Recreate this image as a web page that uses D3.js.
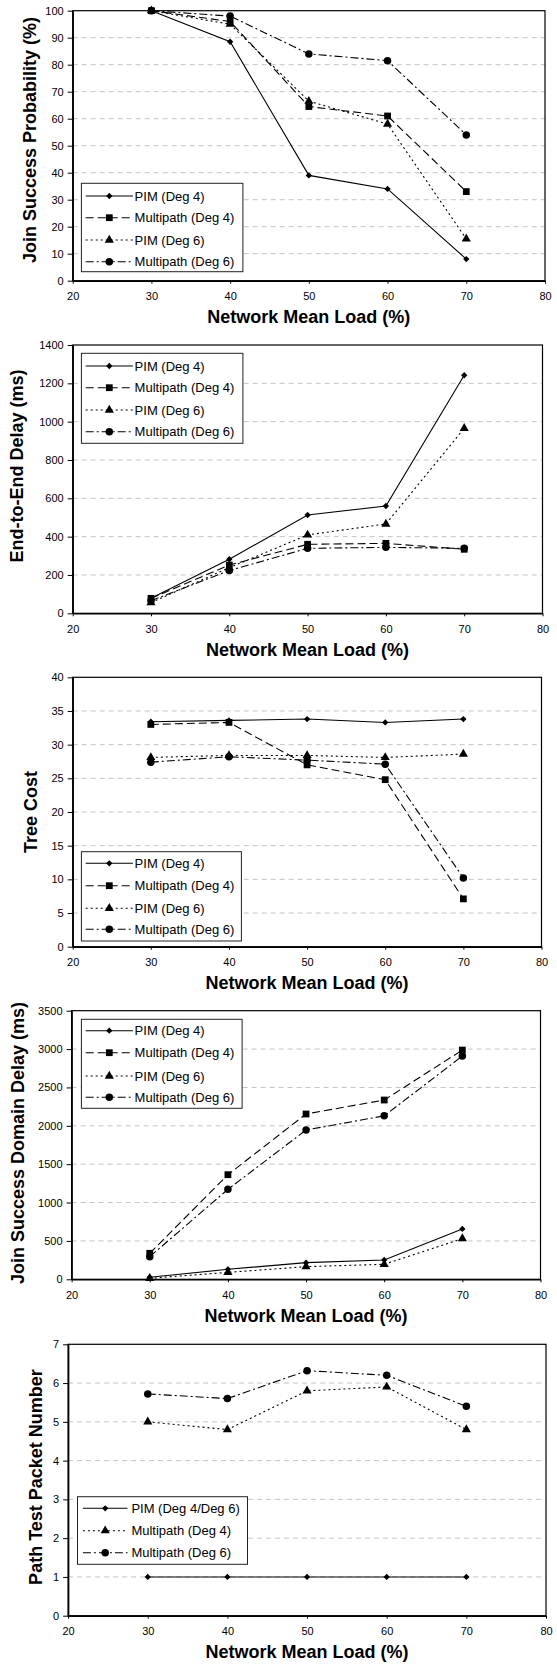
<!DOCTYPE html>
<html lang="en">
<head>
<meta charset="UTF-8">
<title>Network Mean Load charts</title>
<script src="https://d3js.org/d3.v7.min.js"></script>
<style>
    body { margin: 0; background: #fff; }
    svg { display: block; font-family: "Liberation Sans", Arial, sans-serif; }
</style>
</head>
<body>
<svg width="557" height="1664"></svg>
<script>
    // shared x axis
    var loads = [30, 40, 50, 60, 70];
    var xTickValues = [20, 30, 40, 50, 60, 70, 80];
    var legend4 = ['PIM (Deg 4)', 'Multipath (Deg 4)', 'PIM (Deg 6)', 'Multipath (Deg 6)'];
    var legend3 = ['PIM (Deg 4/Deg 6)', 'Multipath (Deg 4)', 'Multipath (Deg 6)'];

    // chart 1: join success probability
    var probTicks = [0, 10, 20, 30, 40, 50, 60, 70, 80, 90, 100];
    var probPim4 = [100, 88.5, 39, 34, 8];
    var probMulti4 = [100, 96, 64.5, 61, 33];
    var probPim6 = [100, 95, 66.5, 58, 15.5];
    var probMulti6 = [100, 98, 84, 81.5, 54];

    // chart 2: end-to-end delay
    var delayTicks = [0, 200, 400, 600, 800, 1000, 1200, 1400];
    var delayPim4 = [78, 282, 513, 560, 1242];
    var delayMulti4 = [78, 252, 360, 365, 334];
    var delayPim6 = [56, 238, 409, 466, 965];
    var delayMulti6 = [66, 223, 339, 344, 339];

    // chart 3: tree cost
    var costTicks = [0, 5, 10, 15, 20, 25, 30, 35, 40];
    var costPim4 = [33.4, 33.6, 33.8, 33.3, 33.8];
    var costMulti4 = [33.0, 33.3, 27.0, 24.8, 7.1];
    var costPim6 = [28.1, 28.4, 28.4, 28.1, 28.6];
    var costMulti6 = [27.4, 28.2, 27.7, 27.1, 10.2];

    // chart 4: join success domain delay
    var domTicks = [0, 500, 1000, 1500, 2000, 2500, 3000, 3500];
    var domPim4 = [26, 130, 217, 252, 656];
    var domMulti4 = [339, 1363, 2154, 2336, 2987];
    var domPim6 = [13, 90, 165, 195, 530];
    var domMulti6 = [295, 1172, 1945, 2130, 2909];

    // chart 5: path test packet number
    var pktTicks = [0, 1, 2, 3, 4, 5, 6, 7];
    var pktPim = [1, 1, 1, 1, 1];
    var pktMulti4 = [5.0, 4.8, 5.8, 5.9, 4.8];
    var pktMulti6 = [5.72, 5.6, 6.32, 6.2, 5.4];

    // diamond = square turned 45deg
    var styles = {
        solidDiamond: { dash: null, marker: d3.symbolSquare, size: 20, rot: 45 },
        dashSquare: { dash: '8,4', marker: d3.symbolSquare, size: 46, rot: 0 },
        dotTriangle: { dash: '2,3', marker: d3.symbolTriangle, size: 36, rot: 0 },
        dashDotCircle: { dash: '8,3,2,3', marker: d3.symbolCircle, size: 44, rot: 0 }
    };

    var panels = [
        { top: 10.7, bottom: 280.7, left: 72.7, right: 545, ticks: probTicks,
          yTitle: 'Join Success Probability (%)', yTitleX: 30, yTitleY: 140,
          series: [probPim4, probMulti4, probPim6, probMulti6], labels: legend4,
          kinds: ['solidDiamond', 'dashSquare', 'dotTriangle', 'dashDotCircle'],
          legend: { x: 81.4, y: 183.3, w: 161.5, h: 88.4, rows: [196, 217.7, 240, 261.7], lx: [85.7, 132.9], tx: 134.6 } },
        { top: 345, bottom: 613.3, left: 72.7, right: 542.5, ticks: delayTicks,
          yTitle: 'End-to-End Delay (ms)', yTitleX: 17, yTitleY: 466,
          series: [delayPim4, delayMulti4, delayPim6, delayMulti6], labels: legend4,
          kinds: ['solidDiamond', 'dashSquare', 'dotTriangle', 'dashDotCircle'],
          legend: { x: 81.4, y: 353.3, w: 161.5, h: 90, rows: [366, 387.7, 410, 431.7], lx: [85.7, 132.9], tx: 134.6 } },
        { top: 677.3, bottom: 946.7, left: 72.7, right: 541.5, ticks: costTicks,
          yTitle: 'Tree Cost', yTitleX: 31, yTitleY: 812,
          series: [costPim4, costMulti4, costPim6, costMulti6], labels: legend4,
          kinds: ['solidDiamond', 'dashSquare', 'dotTriangle', 'dashDotCircle'],
          legend: { x: 81.4, y: 851.7, w: 160, h: 89.3, rows: [863.3, 885.7, 908.3, 929.3], lx: [85.7, 132.9], tx: 134.6 } },
        { top: 1010.7, bottom: 1279.3, left: 71.6, right: 540.5, ticks: domTicks,
          yTitle: 'Join Success Domain Delay (ms)', yTitleX: 18, yTitleY: 1143,
          series: [domPim4, domMulti4, domPim6, domMulti6], labels: legend4,
          kinds: ['solidDiamond', 'dashSquare', 'dotTriangle', 'dashDotCircle'],
          legend: { x: 81.4, y: 1019.3, w: 160.7, h: 89, rows: [1030.7, 1052.7, 1076, 1097.3], lx: [85.7, 132.9], tx: 134.6 } },
        { top: 1344.3, bottom: 1615.7, left: 68.1, right: 546, ticks: pktTicks,
          yTitle: 'Path Test Packet Number', yTitleX: 35.5, yTitleY: 1477,
          series: [pktPim, pktMulti4, pktMulti6], labels: legend3,
          kinds: ['solidDiamond', 'dotTriangle', 'dashDotCircle'],
          legend: { x: 77.5, y: 1496.7, w: 170, h: 67.6, rows: [1508.3, 1530.7, 1552.7], lx: [82.9, 127.5], tx: 131.4 } }
    ];

    var svg = d3.select('svg');

    panels.forEach(function (p) {
        var x = d3.scaleLinear().domain([20, 80]).range([p.left, p.right]);
        var y = d3.scaleLinear().domain([0, d3.max(p.ticks)]).range([p.bottom, p.top]);
        var g = svg.append('g');

        // grid
        g.selectAll('.grid')
            .data(p.ticks.slice(1, -1))
            .enter()
            .append('line')
            .attr('x1', p.left).attr('x2', p.right)
            .attr('y1', function (d) { return y(d); })
            .attr('y2', function (d) { return y(d); })
            .style('stroke', '#c4c4c4')
            .style('stroke-dasharray', '5,4')
            .style('stroke-width', 1);

        g.append('rect')
            .attr('x', p.left).attr('y', p.top)
            .attr('width', p.right - p.left).attr('height', p.bottom - p.top)
            .style('fill', 'none').style('stroke', '#000').style('stroke-width', 1.2);

        var xAxis = g.append('g')
            .attr('transform', 'translate(0,' + p.bottom + ')')
            .call(d3.axisBottom(x).tickValues(xTickValues).tickFormat(d3.format('d'))
                .tickSize(3).tickPadding(9).tickSizeOuter(0));
        var yAxis = g.append('g')
            .attr('transform', 'translate(' + p.left + ',0)')
            .call(d3.axisLeft(y).tickValues(p.ticks).tickFormat(d3.format('d'))
                .tickSize(5).tickPadding(4).tickSizeOuter(0));
        [xAxis, yAxis].forEach(function (a) {
            a.select('.domain').style('stroke', '#000').style('stroke-width', 1.5);
            a.selectAll('line').style('stroke', '#000');
            a.selectAll('text').style('font-size', '11px').style('fill', '#000')
                .style('font-family', '"Liberation Sans", Arial, sans-serif');
        });

        g.append('text')
            .attr('x', (p.left + p.right) / 2)
            .attr('y', p.bottom + 42.5)
            .attr('text-anchor', 'middle')
            .style('font-size', '18px').style('font-weight', 'bold')
            .text('Network Mean Load (%)');

        g.append('text')
            .attr('transform', 'translate(' + p.yTitleX + ',' + p.yTitleY + ') rotate(-90)')
            .attr('text-anchor', 'middle')
            .attr('dy', '0.36em')
            .style('font-size', '18px').style('font-weight', 'bold')
            .text(p.yTitle);

        var line = d3.line()
            .x(function (d, i) { return x(loads[i]); })
            .y(function (d) { return y(d); });

        p.series.forEach(function (values, k) {
            var st = styles[p.kinds[k]];
            g.append('path')
                .attr('d', line(values))
                .style('fill', 'none').style('stroke', '#000').style('stroke-width', 1.1)
                .style('stroke-dasharray', st.dash);
            g.selectAll('.m' + k)
                .data(values)
                .enter()
                .append('path')
                .attr('d', d3.symbol().type(st.marker).size(st.size))
                .attr('transform', function (d, i) {
                    return 'translate(' + x(loads[i]) + ',' + y(d) + ') rotate(' + st.rot + ')';
                })
                .style('fill', '#000');
        });

        // legend
        var L = p.legend;
        g.append('rect')
            .attr('x', L.x).attr('y', L.y).attr('width', L.w).attr('height', L.h)
            .style('fill', '#fff').style('stroke', '#222').style('stroke-width', 1);
        p.labels.forEach(function (label, k) {
            var st = styles[p.kinds[k]];
            var ry = L.rows[k];
            g.append('line')
                .attr('x1', L.lx[0]).attr('x2', L.lx[1]).attr('y1', ry).attr('y2', ry)
                .style('stroke', '#000').style('stroke-width', 1.1)
                .style('stroke-dasharray', st.dash);
            g.append('path')
                .attr('d', d3.symbol().type(st.marker).size(st.size))
                .attr('transform', 'translate(' + (L.lx[0] + L.lx[1]) / 2 + ',' + ry + ') rotate(' + st.rot + ')')
                .style('fill', '#000');
            g.append('text')
                .attr('x', L.tx).attr('y', ry).attr('dy', '0.36em')
                .style('font-size', '13px')
                .text(label);
        });
    });
</script>
</body>
</html>
